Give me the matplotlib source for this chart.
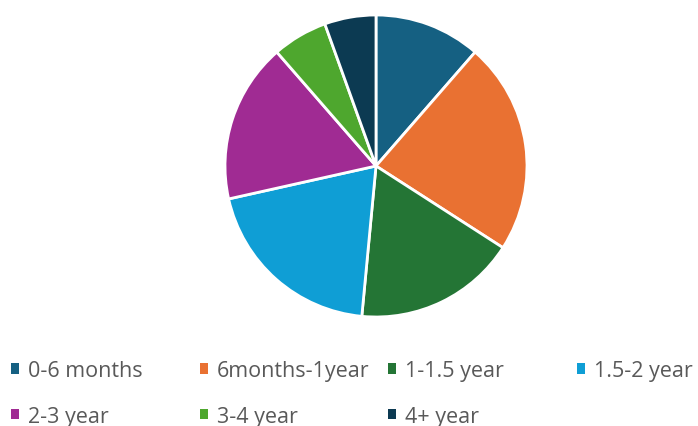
import matplotlib
matplotlib.use("Agg")
import matplotlib.pyplot as plt
from matplotlib.patches import Patch

# tenure groups and their share (%)
labels = ["0-6 months", "6months-1year", "1-1.5 year", "1.5-2 year",
          "2-3 year", "3-4 year", "4+ year"]
shares = [11.4, 22.7, 17.4, 20.0, 17.1, 5.9, 5.5]
colors = ["#156082", "#E97132", "#247535", "#0F9ED5",
          "#A02B93", "#4EA72E", "#0C3A52"]

plt.rcParams['font.family'] = ['Open Sans', 'DejaVu Sans']

fig = plt.figure(figsize=(6.98, 4.27), dpi=100)
W, H = 698, 427
cx, cy, r = 376, 167, 151
ax = fig.add_axes([(cx - r) / W, (H - cy - r) / H, 2 * r / W, 2 * r / H])
ax.pie(shares, colors=colors, startangle=90, counterclock=False, radius=1,
       wedgeprops=dict(edgecolor="white", linewidth=2))
ax.set_xlim(-1.0, 1.0)
ax.set_ylim(-1.0, 1.0)
ax.set_aspect("equal")
ax.axis("off")

# legend: 4 evenly spaced columns, two rows
col_x = [11, 200, 388, 577]
for c in range(4):
    idx = [i for i in (c, c + 4) if i < len(labels)]
    handles = [Patch(facecolor=colors[i], edgecolor="none") for i in idx]
    fig.legend(handles, [labels[i] for i in idx],
               loc="upper left", bbox_to_anchor=(col_x[c] / W, 1 - 361 / H),
               frameon=False, fontsize=15.5, labelcolor="#595959",
               handlelength=0.37, handleheight=0.37, handletextpad=0.42,
               labelspacing=1.15, borderpad=0, borderaxespad=0)

fig.savefig("out.png", dpi=100, facecolor="white")
